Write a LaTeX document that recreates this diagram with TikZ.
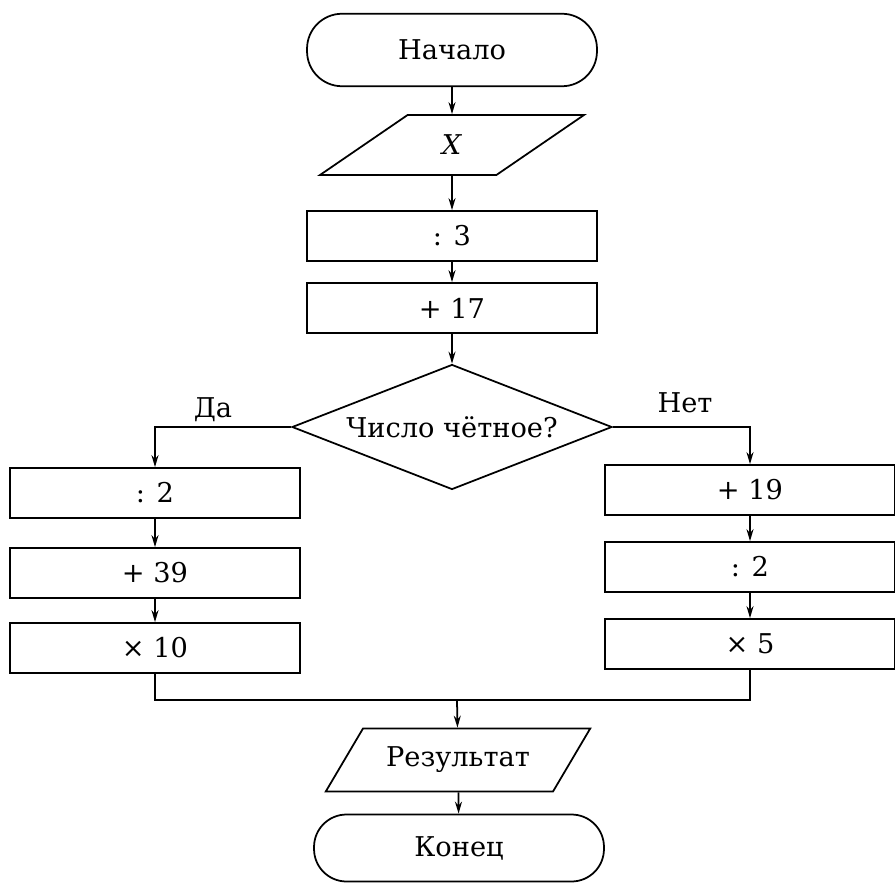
\documentclass[tikz,border=0pt]{standalone}
\usepackage{fontspec}
\setmainfont{DejaVu Serif}
\usetikzlibrary{arrows.meta,shapes.geometric}

\begin{document}
\begin{tikzpicture}[x=0.02cm,y=-0.02cm,font=\fontsize{15.5}{18}\selectfont,line width=1pt,
term/.style={draw,rounded corners=7mm,minimum width=5.8cm,minimum height=1.45cm},
io/.style={draw,trapezium,trapezium left angle=45,trapezium right angle=135,trapezium stretches=true,minimum width=5.3cm,minimum height=1.2cm},
box/.style={draw,minimum width=5.8cm,minimum height=1cm},
cond/.style={draw,diamond,shape aspect=2.55,minimum width=6.4cm,minimum height=2.5cm,inner sep=1pt},
arr/.style={-{Stealth[length=2.4mm,width=1.4mm]}}]
\useasboundingbox (0,0) rectangle (895,885);
% main column
\node[term] (start) at (452,50) {Начало};
\node[io] (inx) at (452,145) {\textit{X}};
\node[box] (div3) at (452,236) {: 3};
\node[box] (add17) at (452,308) {+ 17};
\node[cond] (even) at (452,427) {Число чётное?};
% yes branch
\node[box] (ldiv2) at (155,493) {: 2};
\node[box] (ladd39) at (155,573) {+ 39};
\node[box] (lmul10) at (155,648) {× 10};
% no branch
\node[box] (radd19) at (750,490) {+ 19};
\node[box] (rdiv2) at (750,567) {: 2};
\node[box] (rmul5) at (750,644) {× 5};
% end
\coordinate (join) at (457,700);
\node[io,trapezium left angle=51,trapezium right angle=129,minimum height=1.26cm] (res) at (458,760) {Результат};
\node[term,rounded corners=6.5mm,minimum height=1.34cm] (stop) at (459,848) {Конец};
\node (yes) at (213,410) {Да};
\node (no) at (685,403) {Нет};
\draw[arr] (start)--(inx);\draw[arr] (inx)--(div3);\draw[arr] (div3)--(add17);\draw[arr] (add17)--(even);
\draw[arr] (even.west) -| (ldiv2);
\draw[arr] (ldiv2)--(ladd39);\draw[arr] (ladd39)--(lmul10);
\draw[arr] (even.east) -| (radd19);
\draw[arr] (radd19)--(rdiv2);\draw[arr] (rdiv2)--(rmul5);
\draw (lmul10) |- (join) -| (rmul5);
\draw[arr] (join)--(res);\draw[arr] (res)--(stop);
\end{tikzpicture}
\end{document}
